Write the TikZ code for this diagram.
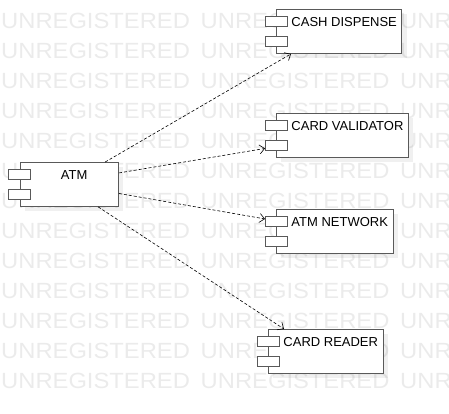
\documentclass[tikz,border=0pt]{standalone}
\usepackage{fontspec}
\setmainfont{Liberation Sans}
\usetikzlibrary{arrows.meta,shadows}

\begin{document}
\begin{tikzpicture}[x=1pt,y=-1pt,
    wm/.style={text=black!8, font=\fontsize{22}{22}\selectfont, inner sep=0pt, anchor=base west},
    comp/.style={draw=black!65, line width=0.9pt, fill=white, anchor=north west,
      font=\fontsize{13}{13}\selectfont, inner xsep=5pt, inner ysep=0pt,
      text height=17.3pt, text depth=26.7pt,
      execute at begin node={\hspace*{10pt}},
      drop shadow={shadow xshift=5pt, shadow yshift=-5pt, fill=black, opacity=0.06}},
    port/.style={draw=black!65, line width=0.9pt, fill=white},
    dep/.style={draw, line width=0.6pt, dash pattern=on 3pt off 2pt,
      -{Straight Barb[length=5pt,width=9pt]}}]
  \useasboundingbox (0,0) rectangle (449,414);
  \foreach \r in {0,...,12}
    \foreach \c in {0,1,2}
      \node[wm] (wm-\r-\c) at (1+199.5*\c, 28.3+30*\r) {\scalebox{1.08}[1]{UNREGISTERED}};
  \node[comp, minimum width=98.5pt] (ATM) at (19.5,162) {ATM};
  \node[comp] (CD)  at (276,9)   {CASH DISPENSE};
  \node[comp] (CV)  at (276,113) {CARD VALIDATOR};
  \node[comp] (NET) at (276,209) {ATM NETWORK};
  \node[comp] (CR)  at (268,329) {CARD READER};
  \foreach \n in {ATM,CD,CV,NET,CR} {
    \draw[port] ([shift={(-11pt,-7.5pt)}]\n.north west) rectangle ++(22pt,-10pt);
    \draw[port] ([shift={(-11pt,-27pt)}]\n.north west) rectangle ++(22pt,-10pt);
  }
  \path ([xshift=36pt]ATM.north) edge[dep] ([xshift=15pt]CD.south west);
  \path ([yshift=11.5pt]ATM.east) edge[dep] ([xshift=-11pt,yshift=-13pt]CV.west);
  \path ([yshift=-9pt]ATM.east) edge[dep] ([xshift=-11pt,yshift=12.5pt]NET.west);
  \path ([xshift=29pt]ATM.south) edge[dep] ([xshift=16pt]CR.north west);
\end{tikzpicture}
\end{document}
